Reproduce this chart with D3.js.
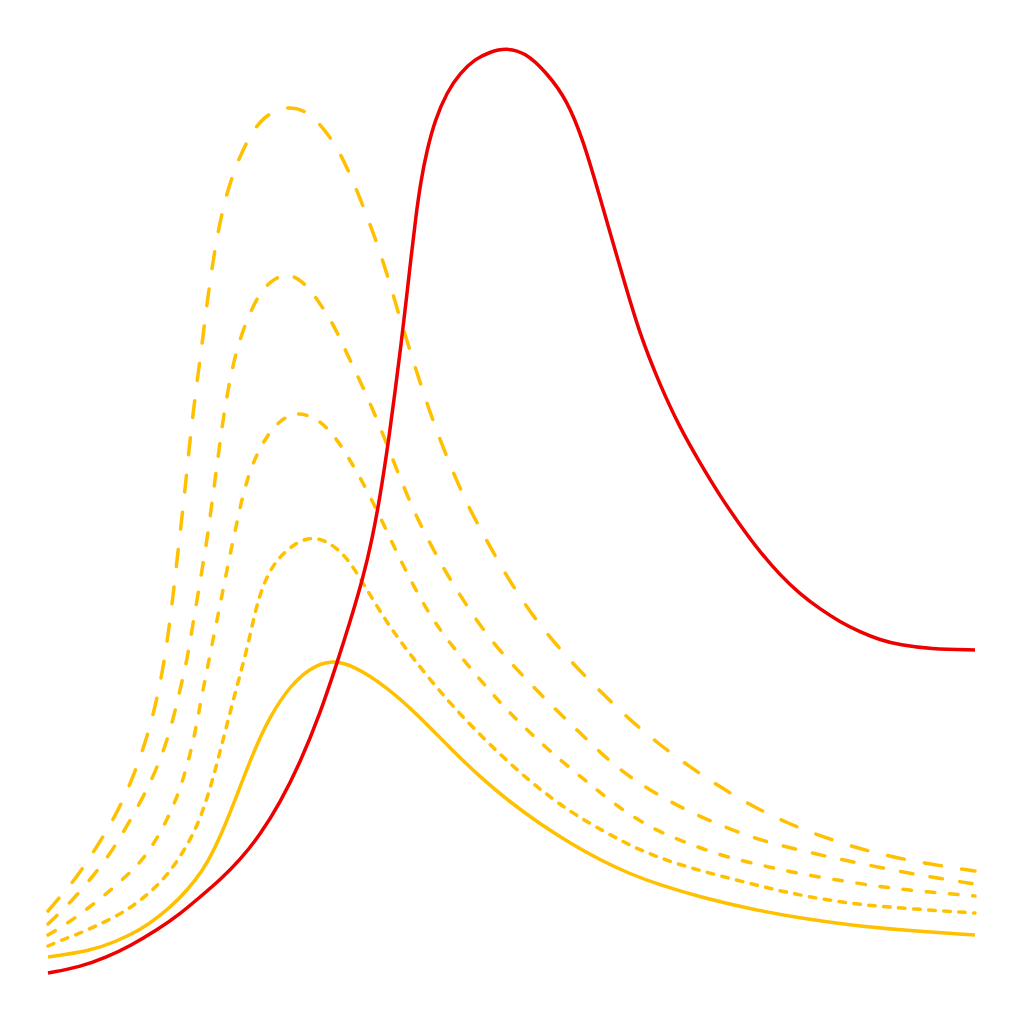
<!DOCTYPE html>
<html>
<head>
<meta charset="utf-8">
<script src="https://cdn.jsdelivr.net/npm/d3@7"></script>
<style>
  html, body { margin: 0; padding: 0; background: #ffffff; }
  svg { display: block; }
</style>
</head>
<body>
<div id="chart"></div>
<script>
// ---- data (x, y) in arbitrary units ----
const redCurve = [[0,1.7],[3.2,2.3],[5.9,3.3],[8.2,4.4],[10.9,6.0],[13.2,7.6],[15.2,9.3],[17.2,11.0],[19.2,13.0],[21.2,15.5],[23.2,18.7],[25.2,22.7],[27.2,27.6],[28.9,32.7],[30.2,36.8],[31.5,41.2],[32.4,45.0],[33.2,49.3],[34.0,54.5],[34.7,59.8],[35.3,64.5],[35.8,68.8],[36.3,73.2],[36.8,77.5],[37.3,81.0],[37.9,84.0],[38.7,87.0],[39.9,89.8],[41.2,91.7],[42.7,93.1],[44.2,93.8],[45.7,94.2],[47.7,93.8],[49.9,91.7],[51.9,89.0],[53.5,85.0],[54.9,80.3],[56.5,74.7],[57.5,71.3],[59.2,65.5],[61.2,60.5],[63.2,56.2],[65.2,52.7],[67.2,49.4],[69.2,46.5],[71.2,43.8],[73.2,41.5],[75.2,39.6],[77.2,38.1],[79.2,36.8],[81.2,35.8],[83.2,35.0],[85.2,34.5],[88.2,34.1],[92.7,34.0]];

const solidYellow = [[0,3.3],[4.2,3.9],[6.7,4.8],[9.2,6.0],[11.2,7.4],[13.2,9.2],[14.7,10.9],[16.0,12.8],[17.4,15.7],[18.9,19.5],[20.5,23.7],[22.2,27.4],[24.2,30.4],[26.2,32.2],[28.2,33.0],[30.5,32.5],[33.9,30.3],[37.2,27.3],[40.2,24.2],[43.2,21.3],[46.2,18.8],[49.2,16.6],[52.2,14.7],[55.2,13.0],[58.2,11.6],[61.2,10.5],[65.2,9.3],[70.2,8.1],[75.2,7.2],[80.2,6.5],[85.2,6.0],[92.7,5.5]];

const dotted = [[0,4.4],[1.4,5.0],[3.0,5.6],[4.8,6.4],[7.1,7.5],[8.9,8.7],[10.6,10.1],[12.0,11.6],[13.4,13.6],[14.7,15.9],[15.7,18.5],[16.6,21.5],[17.5,25.0],[18.4,28.5],[19.2,31.5],[20.0,34.5],[20.7,37.8],[21.4,40.2],[22.4,42.4],[23.9,44.1],[26.0,45.4],[28.0,44.9],[29.9,43.3],[31.5,40.7],[33.9,36.7],[35.9,34.0],[37.5,31.9],[40.5,28.3],[44.2,24.5],[48.2,20.8],[52.2,17.8],[55.7,15.8],[58.5,14.3],[61.2,13.2],[64.2,12.2],[69.2,10.9],[73.2,9.9],[77.2,9.1],[81.5,8.5],[86.5,8.1],[92.7,7.7]];

const shortDash = [[0,5.5],[2.0,6.7],[3.9,8.1],[5.7,9.5],[7.4,11.0],[9.2,12.7],[10.5,14.5],[11.7,16.6],[12.7,18.8],[13.5,21.0],[14.2,23.5],[14.8,26.2],[15.3,29.0],[15.8,31.5],[16.3,34.0],[16.8,36.5],[17.3,39.0],[17.8,41.5],[18.3,44.0],[18.8,46.3],[19.3,48.7],[19.9,51.0],[20.7,53.2],[21.8,55.3],[23.2,57.0],[24.8,57.8],[26.7,57.3],[28.4,55.8],[30.1,53.2],[31.9,50.0],[33.5,46.7],[34.9,43.7],[36.4,40.7],[38.0,37.8],[39.7,35.3],[42.2,32.2],[45.2,28.7],[48.2,25.7],[51.2,23.0],[53.7,21.0],[55.5,19.5],[57.2,18.2],[59.2,16.9],[61.2,15.8],[63.4,14.9],[65.5,14.1],[67.9,13.3],[71.2,12.5],[74.3,11.8],[78.8,11.0],[83.4,10.3],[87.9,9.8],[92.7,9.4]];

const mediumDash = [[0,6.6],[2.2,8.7],[4.1,10.9],[6.0,13.3],[7.5,15.7],[9.2,18.7],[10.5,21.3],[11.6,24.0],[12.5,27.0],[13.2,30.0],[13.9,33.0],[14.4,36.0],[14.9,39.0],[15.4,42.0],[15.9,45.0],[16.3,48.0],[16.7,51.0],[17.1,54.0],[17.5,57.0],[18.0,60.0],[18.6,63.0],[19.5,66.1],[20.9,69.3],[22.2,70.9],[23.8,71.7],[25.4,71.0],[27.0,69.0],[28.7,66.3],[30.0,63.4],[31.3,60.7],[32.5,58.0],[33.6,55.3],[34.7,52.5],[35.7,50.0],[36.9,47.2],[38.5,44.1],[40.0,41.4],[41.7,38.7],[43.4,36.2],[45.2,33.9],[47.4,31.5],[50.2,28.6],[53.0,25.9],[55.7,23.3],[58.0,21.4],[60.7,19.7],[63.4,18.2],[66.0,17.0],[68.9,15.8],[71.9,14.8],[74.7,14.1],[77.7,13.4],[80.5,12.8],[83.5,12.2],[86.5,11.6],[89.5,11.1],[92.7,10.6]];

const longDash = [[0,7.9],[1.2,9.3],[2.6,10.9],[4.7,14.0],[6.7,17.3],[8.2,20.5],[9.5,24.0],[10.5,27.4],[11.3,31.0],[11.9,34.7],[12.4,38.5],[12.9,43.0],[13.4,47.3],[13.8,51.0],[14.2,55.0],[14.7,59.3],[15.4,64.5],[16.0,69.5],[16.7,74.2],[17.5,78.3],[18.5,81.7],[19.9,85.0],[21.5,87.4],[24.0,88.5],[26.2,87.8],[28.5,85.0],[29.9,82.3],[31.2,79.2],[32.5,75.8],[33.8,72.0],[35.0,67.8],[36.4,63.3],[37.7,59.2],[39.2,55.0],[40.7,51.3],[42.2,48.0],[43.9,44.9],[45.5,42.0],[47.7,38.5],[49.9,35.6],[52.5,32.6],[55.5,29.6],[58.2,27.0],[61.2,24.5],[64.2,22.3],[67.2,20.3],[70.4,18.4],[73.9,16.7],[77.5,15.3],[81.2,14.1],[84.9,13.2],[88.7,12.5],[92.7,11.9]];

const xDomain = [0, 92.7];
const yDomain = [0, 96];

// ---- drawing ----
const W = 1024, H = 1024;
const svg = d3.select("#chart").append("svg")
  .attr("width", W).attr("height", H);

const x = d3.scaleLinear().domain(xDomain).range([48, 975]);
const y = d3.scaleLinear().domain(yDomain).range([990, 30]);

const line = d3.line()
  .x(d => x(d[0]))
  .y(d => y(d[1]))
  .curve(d3.curveBasis);

const yellow = "#FFC000";
const red = "#EE0000";

const series = [
  { data: longDash,    color: yellow, dash: "17,20.5" },
  { data: mediumDash,  color: yellow, dash: "12.5,17.5" },
  { data: shortDash,   color: yellow, dash: "8.5,14.8" },
  { data: dotted,      color: yellow, dash: "6.5,8.5" },
  { data: solidYellow, color: yellow, dash: null },
  { data: redCurve,    color: red,    dash: null }
];

svg.selectAll("path.series")
  .data(series)
  .join("path")
  .attr("class", "series")
  .attr("d", d => line(d.data))
  .attr("fill", "none")
  .attr("stroke", d => d.color)
  .attr("stroke-width", 3.5)
  .attr("stroke-linecap", d => d.dash ? "round" : "butt")
  .attr("stroke-linejoin", "round")
  .attr("stroke-dasharray", d => d.dash);
</script>
</body>
</html>
